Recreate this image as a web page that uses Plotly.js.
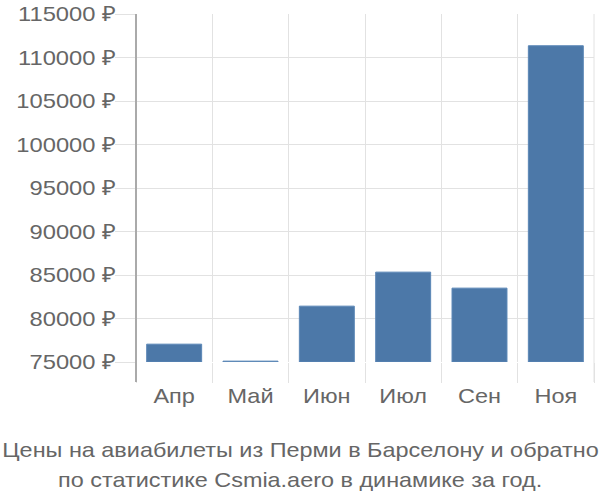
<!DOCTYPE html>
<html><head><meta charset="utf-8">
<script src="https://cdn.plot.ly/plotly-3.0.1.min.js"></script>
<style>html,body{margin:0;padding:0;background:#fff}#chart{width:600px;height:500px}</style>
</head><body><div id="chart"></div>
<script>
const months = ["Апр", "Май", "Июн", "Июл", "Сен", "Ноя"];
const prices = [77050, 75100, 81420, 85330, 83490, 111350];
const titleLines = ["Цены на авиабилеты из Перми в Барселону и обратно", "по статистике Csmia.aero в динамике за год."];
const baseValue = 75000;

const grid = "#e2e2e2";
const txt = "#666666";
const fnt = "Liberation Sans, Arial, sans-serif";

const trace = {
  type: "bar",
  x: months,
  y: prices.map(v => v - baseValue),
  base: baseValue,
  width: 0.72,
  marker: {color: "#4c78a8", line: {color: "#5a86b6", width: 1}},
  hoverinfo: "skip"
};

const layout = {
  width: 600, height: 500,
  margin: {l: 136, r: 6, t: 14, b: 138},
  paper_bgcolor: "#fff", plot_bgcolor: "#fff",
  showlegend: false,
  font: {family: fnt, color: txt, size: 21},
  xaxis: {
    type: "category",
    tickson: "boundaries",
    showgrid: true, gridcolor: grid, gridwidth: 1,
    ticks: "outside", ticklen: 20, tickcolor: grid, tickwidth: 1,
    showline: false, zeroline: false,
    tickfont: {family: fnt, size: 21, color: txt},
    ticklabelstandoff: 19,
    range: [-0.5, 5.5],
    fixedrange: true
  },
  yaxis: {
    range: [75000, 115000],
    dtick: 5000, tick0: 75000,
    tickformat: "d", ticksuffix: " ₽",
    showgrid: true, gridcolor: grid, gridwidth: 1,
    ticks: "outside", ticklen: 20, tickcolor: grid, tickwidth: 1,
    showline: false, zeroline: false,
    tickfont: {family: fnt, size: 21, color: txt},
    ticklabelstandoff: -5,
    fixedrange: true
  },
  shapes: [
    {type: "line", xref: "paper", yref: "paper", x0: 0, x1: 0, y0: -0.0575, y1: 1,
     line: {color: "#aaaaaa", width: 2}, layer: "above"},
    {type: "line", xref: "paper", yref: "paper", x0: 1, x1: 1, y0: -0.0575, y1: 1,
     line: {color: grid, width: 1}, layer: "below"}
  ],
  annotations: titleLines.map((t, i) => ({
    xref: "paper", yref: "paper", x: (300 - 136) / 458, y: i === 0 ? -0.252 : -0.338,
    xanchor: "center", yanchor: "middle", showarrow: false,
    text: t,
    font: {family: fnt, size: 21, color: txt},
    align: "center"
  }))
};

function stretch(sel, k) {
  document.querySelectorAll(sel).forEach(t => {
    const x = parseFloat(t.getAttribute("x")) || 0;
    const tr = t.getAttribute("transform") || "";
    t.setAttribute("transform", tr + " translate(" + x + ",0) scale(" + k + ",1) translate(" + (-x) + ",0)");
  });
}

Plotly.newPlot("chart", [trace], layout, {displayModeBar: false, staticPlot: true}).then(() => {
  stretch("#chart .xtick text", 1.12);
  stretch("#chart .ytick text", 1.13);
  stretch("#chart .annotation-text", 1.115);
});
</script></body></html>
